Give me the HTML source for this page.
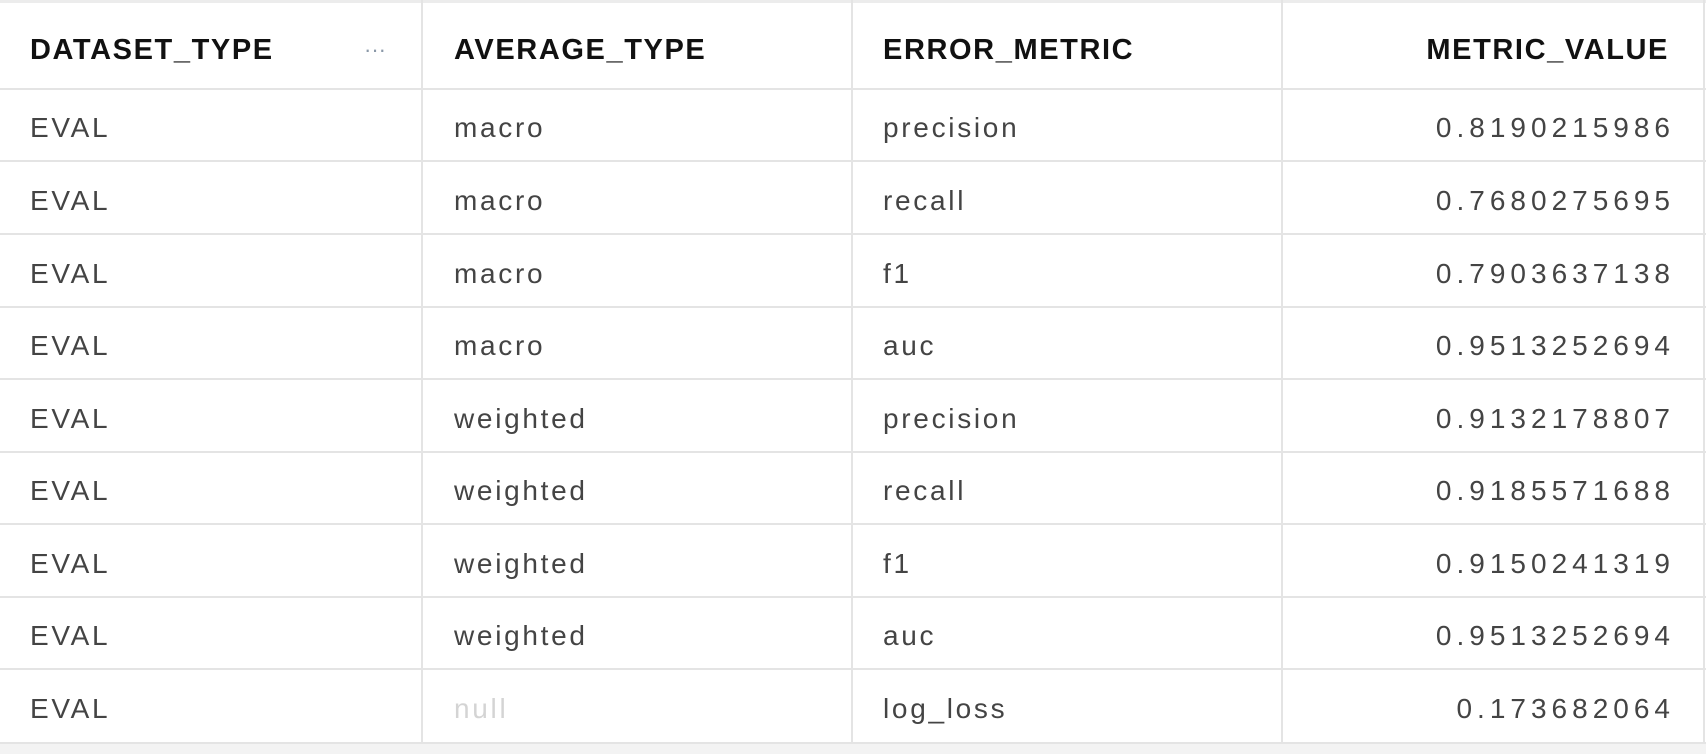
<!DOCTYPE html>
<html><head><meta charset="utf-8">
<style>
html,body{margin:0;padding:0;width:1706px;height:754px;overflow:hidden;background:#f3f3f3;font-family:"Liberation Sans",sans-serif;}
#wrap{position:absolute;left:0;top:0;width:1706px;height:744px;background:#fff;}
.row{position:absolute;left:0;width:1706px;border-bottom:2px solid #e4e4e4;box-sizing:border-box;}
.cell{position:absolute;top:0;height:100%;display:flex;align-items:center;box-sizing:border-box;border-right:2px solid #e4e4e4;}
.hdr .cell{font-weight:bold;font-size:29px;letter-spacing:1.6px;color:#111;padding-top:12px;}
.body .cell{font-size:28px;letter-spacing:2.7px;color:#444;padding-top:6px;}
.c0{left:0;width:423px;padding-left:30px}
.c1{left:423px;width:430px;padding-left:31px}
.c2{left:853px;width:430px;padding-left:30px}
.c3{left:1283px;width:422px;justify-content:flex-end;padding-right:34px}
.body .c3{letter-spacing:5px;padding-right:28px}
.null{color:#d4d4d4 !important}
.dots{position:absolute;left:364px;font-size:22px;color:#8a98a8;letter-spacing:0;font-weight:normal}
</style></head><body>
<div id="wrap">
<div style="position:absolute;left:0;top:0;width:1706px;height:3px;background:#ececec"></div>
<div class="row hdr" style="top:0;height:90px">
 <div class="cell c0">DATASET_TYPE<span class="dots">···</span></div>
 <div class="cell c1">AVERAGE_TYPE</div>
 <div class="cell c2">ERROR_METRIC</div>
 <div class="cell c3">METRIC_VALUE</div>
</div>
<div id="rows"></div>
</div>
<script>
const datasetTypes=["EVAL","EVAL","EVAL","EVAL","EVAL","EVAL","EVAL","EVAL","EVAL"];
const averageTypes=["macro","macro","macro","macro","weighted","weighted","weighted","weighted","null"];
const errorMetrics=["precision","recall","f1","auc","precision","recall","f1","auc","log_loss"];
const metricValues=["0.8190215986","0.7680275695","0.7903637138","0.9513252694","0.9132178807","0.9185571688","0.9150241319","0.9513252694","0.173682064"];
const host=document.getElementById('rows');
const bounds=[90,162,235,308,380,453,525,598,670,744];
for(let i=0;i<metricValues.length;i++){
  const r=document.createElement('div');
  r.className='row body';
  r.style.top=bounds[i]+'px';
  r.style.height=(bounds[i+1]-bounds[i])+'px';
  
  
  const vals=[datasetTypes[i],averageTypes[i],errorMetrics[i],metricValues[i]];
  const names=['dataset-type-cell','average-type-cell','error-metric-cell','metric-value-cell'];
  for(let j=0;j<4;j++){
    const c=document.createElement('div');
    c.className='cell c'+j+(vals[j]==='null'?' null':'');
    c.textContent=vals[j];
    
    
    r.appendChild(c);
  }
  host.appendChild(r);
}
</script>
</body></html>
